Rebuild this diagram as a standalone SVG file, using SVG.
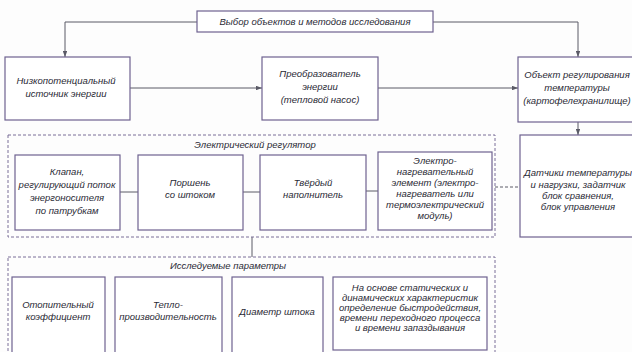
<svg xmlns="http://www.w3.org/2000/svg" width="632" height="352" viewBox="0 0 632 352">
<style>
.b{fill:#fff;stroke:#6e6290;stroke-width:1.2}
.d{fill:none;stroke:#7a6f98;stroke-width:1;stroke-dasharray:3 2}
.c{fill:none;stroke:#5a5a66;stroke-width:1}
text{font-family:"Liberation Sans",Arial,sans-serif;font-style:italic;font-size:9.5px;fill:#2a2a35;text-anchor:middle}
</style>
<defs>
<marker id="a" viewBox="0 0 8 6" refX="8" refY="3" markerWidth="6" markerHeight="4.5" orient="auto" markerUnits="userSpaceOnUse">
<path d="M0,0 L8,3 L0,6 z" fill="#5a5a66"/>
</marker>
</defs>
<rect width="632" height="352" fill="#fdfdfd"/>
<g id="connectors">
<path class="c" d="M197,22 H65 V57" marker-end="url(#a)"/>
<path class="c" d="M433,22 H578 V57" marker-end="url(#a)"/>
<path class="c" d="M130,88 H262" marker-end="url(#a)"/>
<path class="c" d="M378,88 H518" marker-end="url(#a)"/>
<path class="c" d="M578,122 V135" marker-end="url(#a)"/>
<path class="c" d="M495,187 H520" stroke-dasharray="3 2"/>
<path class="c" d="M120,192 H138"/>
<path class="c" d="M243,192 H260"/>
<path class="c" d="M366,191 H378"/>
<path class="c" d="M252,237 V257"/>
</g>
<g id="top"><rect class="b" x="197" y="11" width="236" height="21"/><text x="315" y="25">Выбор объектов и методов исследования</text></g>
<g id="source"><rect class="b" x="5" y="57" width="125" height="63"/><text x="66" y="84">Низкопотенциальный</text><text x="66" y="97">источник энергии</text></g>
<g id="pump"><rect class="b" x="262" y="57" width="116" height="63"/><text x="320" y="77">Преобразователь</text><text x="320" y="90">энергии</text><text x="320" y="103">(тепловой насос)</text></g>
<g id="object"><rect class="b" x="518" y="57" width="120" height="65"/><text x="577" y="78">Объект регулирования</text><text x="577" y="91">температуры</text><text x="577" y="104">(картофелехранилище)</text></g>
<g id="sensors"><rect class="b" x="520" y="135" width="118" height="102"/><text x="578" y="176">Датчики температуры</text><text x="578" y="188">и нагрузки, задатчик</text><text x="578" y="199">блок сравнения,</text><text x="578" y="210">блок управления</text></g>
<g id="regulator"><rect class="d" x="8" y="135" width="487" height="102"/><text x="255" y="148">Электрический регулятор</text></g>
<g id="valve"><rect class="b" x="15" y="155" width="105" height="75"/><text x="67" y="175">Клапан,</text><text x="67" y="188">регулирующий поток</text><text x="67" y="201">энергоносителя</text><text x="67" y="214">по патрубкам</text></g>
<g id="piston"><rect class="b" x="138" y="155" width="105" height="75"/><text x="190" y="186">Поршень</text><text x="190" y="198">со штоком</text></g>
<g id="filler"><rect class="b" x="260" y="155" width="106" height="75"/><text x="313" y="186">Твёрдый</text><text x="313" y="198">наполнитель</text></g>
<g id="heater"><rect class="b" x="378" y="152" width="114" height="78"/><text x="435" y="164">Электро-</text><text x="435" y="175">нагревательный</text><text x="435" y="186">элемент (электро-</text><text x="435" y="197">нагреватель или</text><text x="435" y="208">термоэлектрический</text><text x="435" y="219">модуль)</text></g>
<g id="params"><rect class="d" x="8" y="257" width="487" height="100"/><text x="228" y="269">Исследуемые параметры</text></g>
<g id="coef"><rect class="b" x="12" y="277" width="93" height="80"/><text x="58" y="308">Отопительный</text><text x="58" y="320">коэффициент</text></g>
<g id="capacity"><rect class="b" x="115" y="277" width="107" height="80"/><text x="168" y="308">Тепло-</text><text x="168" y="320">производительность</text></g>
<g id="diam"><rect class="b" x="232" y="277" width="91" height="80"/><text x="277" y="315">Диаметр штока</text></g>
<g id="dyn"><rect class="b" x="333" y="277" width="154" height="73"/><text x="410" y="291">На основе статических и</text><text x="410" y="301">динамических характеристик</text><text x="410" y="311">определение быстродействия,</text><text x="410" y="321">времени переходного процесса</text><text x="410" y="331">и времени запаздывания</text></g>
</svg>
